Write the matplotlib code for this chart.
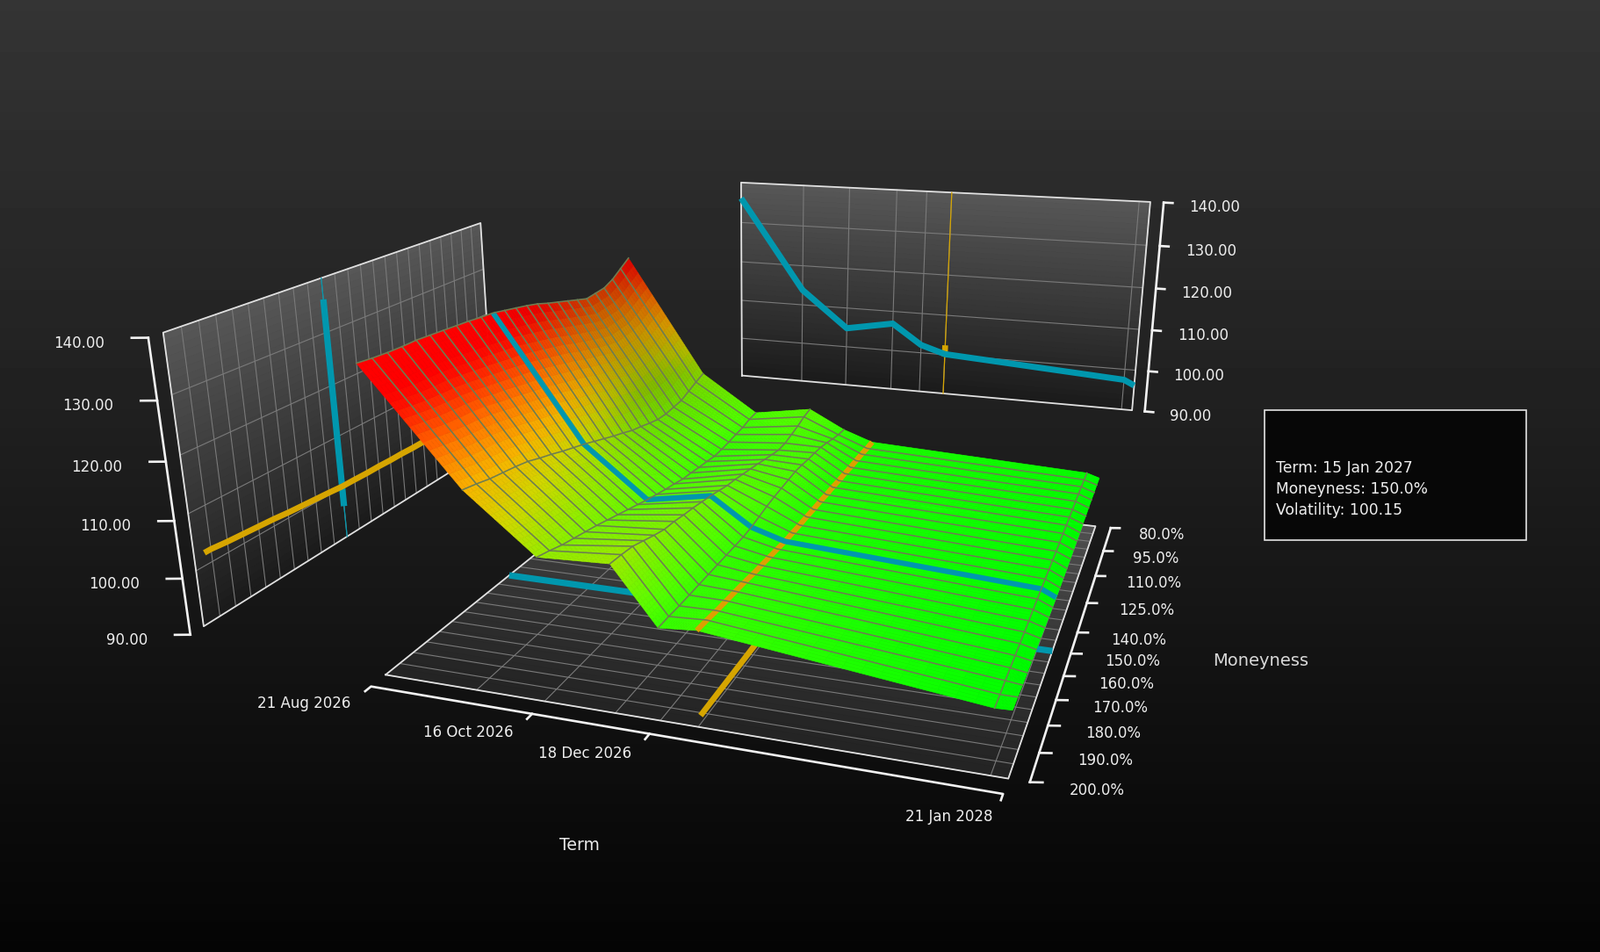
import numpy as np
import matplotlib
matplotlib.use('Agg')
import matplotlib.pyplot as plt
from mpl_toolkits.mplot3d import proj3d
from matplotlib.colors import LinearSegmentedColormap
from matplotlib.patches import Rectangle

#------------------------------------------------------------------------#
# Data
#------------------------------------------------------------------------#
term_pos = [0.0, 0.164, 0.282, 0.401, 0.475, 0.536, 0.975, 1.0]
term_ticks = [0.0, 0.282, 0.475, 1.0]
term_labels = ['21 Aug 2026', '16 Oct 2026', '18 Dec 2026', '21 Jan 2028']
moneyness = list(range(80, 205, 5))
money_ticks = [80, 95, 110, 125, 140, 150, 160, 170, 180, 190, 200]
vol_ticks = [90, 100, 110, 120, 130, 140]
tooltip = ['Term: 15 Jan 2027', 'Moneyness: 150.0%', 'Volatility: 100.15']

# volatility along moneyness, one list per term
vol_t0 = [134.5,133.1,131.7,130.8,130.6,130.4,131.1,131.8,132.5,133.2,134.0,134.6,135.1,135.6,136.1,136.3,136.6,136.8,137.0,137.2,137.4,137.4,137.5,137.7,138.0]
vol_t1 = [110.9,110.2,109.4,108.6,108.4,108.2,108.3,108.8,109.4,109.9,110.7,111.4,112.2,113.0,113.8,114.5,115.2,116.0,116.7,117.5,118.0,118.4,118.8,119.4,119.9]
vol_t2 = [103.4,103.2,102.7,102.5,102.2,102.0,101.9,102.2,102.4,102.7,102.9,103.4,103.8,104.3,104.8,105.4,106.0,106.6,107.2,107.8,108.3,108.8,109.3,110.0,110.6]
vol_t3 = [105.3,104.9,104.2,103.7,103.2,103.1,103.5,103.9,104.4,104.8,105.2,105.6,105.9,106.4,106.9,107.3,107.7,108.0,108.4,108.6,109.2,109.9,110.6,110.9,111.1]
vol_t4 = [101.6,101.8,102.2,102.7,103.1,103.3,103.4,103.6,103.7,103.5,103.3,103.1,102.8,102.4,102.0,101.8,101.8,101.8,101.8,101.8,101.8,101.8,101.8,101.9,101.9]
vol_t5 = [99.5,99.5,99.6,99.6,99.6,99.7,99.7,99.8,99.8,99.9,99.9,100.0,100.0,100.1,100.15,100.4,100.6,100.8,101.0,101.3,101.5,101.7,101.9,102.2,102.4]
vol_t6 = [97.6,97.6,97.6,97.6,97.6,97.5,97.5,97.5,97.5,97.4,97.4,97.4,97.4,97.4,97.4,97.4,97.4,97.3,97.3,97.3,97.3,97.3,97.3,97.2,97.2]
vol_t7 = [96.8,96.8,96.7,96.7,96.6,96.5,96.5,96.4,96.4,96.3,96.3,96.2,96.2,96.2,96.2,96.3,96.4,96.5,96.6,96.7,96.8,96.9,97.0,97.2,97.3]

vol = np.array([vol_t0, vol_t1, vol_t2, vol_t3, vol_t4, vol_t5, vol_t6, vol_t7]).T
i_cur = moneyness.index(150)   # cursor moneyness
k_cur = 5                      # cursor term
cur_row = vol[i_cur]
cur_col = vol[:, k_cur]

#------------------------------------------------------------------------#
# Scene geometry (camera and the detached panels)
#------------------------------------------------------------------------#
W, H = 1822, 1084
wall_x = -0.3445    # left panel, in term units
wall_y = -4.58      # back panel, in moneyness units
floor_z = 86.6
S, CX, CY = 5719.5, 844.8, 558.6

fig = plt.figure(figsize=(W / 100, H / 100), dpi=100)
bg = fig.add_axes([0, 0, 1, 1], zorder=-1)
bg.imshow(np.linspace(0.205, 0.018, 256)[:, None], cmap='gray', vmin=0, vmax=1, aspect='auto')
bg.axis('off')

ax = fig.add_axes([(CX - .095 * S) / W, 1 - (CY + .095 * S) / H, .185 * S / W, .185 * S / H],
                  projection='3d', computed_zorder=False)
ax.patch.set_visible(False)
ax.set_axis_off()

#------------------------------------------------------------------------#
# Colours
#------------------------------------------------------------------------#
surf_cmap = LinearSegmentedColormap.from_list('vol', [
    (0.0, '#00ff00'), (3 / 37, '#20ff00'), (7 / 37, '#50ff00'), (13 / 37, '#90ee00'),
    (18 / 37, '#d0d800'), (23 / 37, '#f8b400'), (28 / 37, '#ff7c00'), (35 / 37, '#ff1000'), (1.0, '#ff0000')])
wall_cmap = LinearSegmentedColormap.from_list('wall', ['#1b1b1b', '#585858'])
floor_cmap = LinearSegmentedColormap.from_list('floor', ['#232323', '#505050'])
GRID = '#7a7a7a'
EDGE = '#e0e0e0'
AXIS = '#f2f2f2'
TEAL = '#0097ae'
GOLD = '#d6a500'
SURF_GRID = '#6d7d52'

#------------------------------------------------------------------------#
# Panels
#------------------------------------------------------------------------#
zz = np.linspace(90, 140, 40)
YY, ZZ = np.meshgrid([80, 200], zz)
ax.plot_surface(np.full_like(YY, wall_x, dtype=float), YY, ZZ, facecolors=wall_cmap((ZZ - 90) / 50),
                shade=False, rstride=1, cstride=1, zorder=1, linewidth=0.5)
XX, ZZ = np.meshgrid([0, 1], zz)
ax.plot_surface(XX, np.full_like(XX, wall_y, dtype=float), ZZ, facecolors=wall_cmap((ZZ - 90) / 50),
                shade=False, rstride=1, cstride=1, zorder=1, linewidth=0.5)
XF, YF = np.meshgrid([0, 1], np.linspace(80, 200, 40))
ax.plot_surface(XF, YF, np.full_like(XF, floor_z, dtype=float), facecolors=floor_cmap((200 - YF) / 120),
                shade=False, rstride=1, cstride=1, zorder=1, linewidth=0.5)

for m in moneyness:
    ax.plot([wall_x, wall_x], [m, m], [90, 140], color=GRID, lw=0.8, zorder=2)
    ax.plot([0, 1], [m, m], [floor_z, floor_z], color=GRID, lw=0.8, zorder=2)
for t in term_pos:
    ax.plot([t, t], [wall_y, wall_y], [90, 140], color=GRID, lw=0.8, zorder=2)
    ax.plot([t, t], [80, 200], [floor_z, floor_z], color=GRID, lw=0.8, zorder=2)
for z in vol_ticks[1:-1]:
    ax.plot([wall_x, wall_x], [80, 200], [z, z], color=GRID, lw=0.8, zorder=2)
    ax.plot([0, 1], [wall_y, wall_y], [z, z], color=GRID, lw=0.8, zorder=2)
ax.plot([wall_x] * 5, [80, 200, 200, 80, 80], [90, 90, 140, 140, 90], color=EDGE, lw=1.3, zorder=3)
ax.plot([0, 1, 1, 0, 0], [wall_y] * 5, [90, 90, 140, 140, 90], color=EDGE, lw=1.3, zorder=3)
ax.plot([0, 1, 1, 0, 0], [200, 200, 80, 80, 200], [floor_z] * 5, color=EDGE, lw=1.3, zorder=3)

#------------------------------------------------------------------------#
# Projections of the cursor lines on the panels
#------------------------------------------------------------------------#
t_cur = term_pos[k_cur]
n_t, n_m = len(term_pos), len(moneyness)
ax.plot([wall_x, wall_x], [150, 150], [90, 140], color=TEAL, lw=0.9, zorder=4)
ax.plot([t_cur, t_cur], [wall_y, wall_y], [90, 140], color=GOLD, lw=0.9, zorder=4)
ax.plot([wall_x, wall_x], [150, 150], [cur_row.min(), cur_row.max()], color=TEAL, lw=5.2, solid_capstyle='butt', zorder=4)
# the gold projections stop just short of 200%
ax.plot([wall_x] * n_m, moneyness[:-1] + [197], list(cur_col[:-1]) + [cur_col[-2]], color=GOLD, lw=4.8, solid_capstyle='butt', zorder=5)
ax.plot([t_cur, t_cur], [wall_y, wall_y], [cur_col.min(), cur_col.max()], color=GOLD, lw=4.8, solid_capstyle='butt', zorder=4)
ax.plot(term_pos, [wall_y] * n_t, cur_row, color=TEAL, lw=5.0, solid_capstyle='butt', zorder=5)
ax.plot(term_pos, [150] * n_t, [floor_z] * n_t, color=TEAL, lw=5.2, solid_capstyle='butt', zorder=4)
ax.plot([t_cur - 0.009] * 2, [moneyness[0], 196], [floor_z, floor_z], color=GOLD, lw=4.8, solid_capstyle='butt', zorder=4)

#------------------------------------------------------------------------#
# Surface: a finer mesh only carries the colour gradient
#------------------------------------------------------------------------#
fine_t = np.concatenate([np.linspace(term_pos[i], term_pos[i + 1], 16, endpoint=False) for i in range(n_t - 1)] + [[1.0]])
fine_m = np.linspace(80, 200, 97)
by_term = np.array([np.interp(fine_m, moneyness, vol[:, k]) for k in range(n_t)])
fine_z = np.array([np.interp(fine_t, term_pos, by_term[:, j]) for j in range(len(fine_m))])
Xg, Yg = np.meshgrid(fine_t, fine_m)
# the far slope is lit less: colours run more orange and a little darker there
far = np.exp(-((Yg - 100) / 35) ** 2) * np.clip((fine_z - 104) / 10, 0, 1)
rgba = surf_cmap(np.clip((fine_z - 2.5 * far - 97) / 37, 0, 1))
rgba[..., :3] *= (1 - 0.2 * far)[..., None]
ax.plot_surface(Xg, Yg, fine_z, facecolors=rgba, shade=False, rstride=1, cstride=1, linewidth=0.4, zorder=6)

ax.plot([t_cur] * n_m, moneyness, cur_col, color='#dca000', lw=4.4, solid_capstyle='butt', zorder=7)
ax.plot(term_pos, [150] * n_t, cur_row, color=TEAL, lw=4.4, solid_capstyle='butt', zorder=8)
for i, m in enumerate(moneyness):
    if i not in (0, i_cur, n_m - 1):
        ax.plot(term_pos, [m] * n_t, vol[i], color=SURF_GRID, lw=1.15, zorder=9)
for k, t in enumerate(term_pos):
    if k not in (k_cur, n_t - 1):
        ax.plot([t] * n_m, moneyness, vol[:, k], color=SURF_GRID, lw=1.15, zorder=9)

#------------------------------------------------------------------------#
# Axes lines and ticks
#------------------------------------------------------------------------#
ax.plot([0, 0, 1, 1], [207, 205, 205, 207], [floor_z] * 4, color=AXIS, lw=1.9, zorder=3)
for t in term_ticks[1:-1]:
    ax.plot([t, t], [205, 207], [floor_z, floor_z], color=AXIS, lw=1.9, zorder=3)
ax.plot([1.03, 1.03], [80, 200], [floor_z, floor_z], color=AXIS, lw=1.9, zorder=3)
for m in money_ticks:
    ax.plot([1.03, 1.047], [m, m - 0.6], [floor_z, floor_z], color=AXIS, lw=1.9, zorder=3)
ax.plot([wall_x, wall_x], [204, 204], [90, 140], color=AXIS, lw=1.9, zorder=3)
ax.plot([1.03, 1.03], [wall_y, wall_y], [90, 140], color=AXIS, lw=1.9, zorder=3)
for z in vol_ticks:
    ax.plot([wall_x, wall_x - 0.024], [204, 205], [z, z], color=AXIS, lw=1.9, zorder=3)
    ax.plot([1.03, 1.05], [wall_y, wall_y], [z, z], color=AXIS, lw=1.9, zorder=3)

ax.view_init(19.9216, -70.83492, 0.24884)
ax.set_proj_type('persp', focal_length=0.30056)
ax.set_box_aspect((1, 1.02658, 0.502))
ax.set_xlim(0.01721, 1.01721)
ax.set_ylim(229.886, 109.886)
ax.set_zlim(90, 140)
for art in ax.get_children():
    art.set_clip_on(False)

#------------------------------------------------------------------------#
# Labels
#------------------------------------------------------------------------#
M = ax.get_proj()
FONT = 'DejaVu Sans'

def label(x, y, z, txt, dx, dy, ha):
    xp, yp, _ = proj3d.proj_transform(x, y, z, M)
    ax.annotate(txt, (xp, yp), xytext=(dx * .72, dy * .72), textcoords='offset points', ha=ha, va='center',
                color='#eeeeee', fontsize=12, family=FONT, annotation_clip=False)

for z in vol_ticks:
    label(wall_x - 0.024, 205, z, '%.2f' % z, -31, -6, 'right')
    label(1.05, wall_y, z, '%.2f' % z, 19, -5, 'left')
for m in money_ticks:
    label(1.047, m, floor_z, '%.1f%%' % m, 22 + (m - 80) / 120 * 9, -7, 'left')
for t, lab, dx, dy in zip(term_ticks, term_labels, [-16, -16, -15, -9], [-14, -15, -16, -19]):
    label(t, 207, floor_z, lab, dx, dy, 'right')

fig.text(660 / W, 1 - 962 / H, 'Term', color='#e8e8e8', fontsize=13.6, ha='center', va='center', family=FONT)
fig.text(1436 / W, 1 - 753 / H, 'Moneyness', color='#d8d8d8', fontsize=14, ha='center', va='center', family=FONT)

fig.add_artist(Rectangle((1439.5 / W, 1 - 615 / H), 298.5 / W, 148.3 / H, transform=fig.transFigure,
                         facecolor='#070707', edgecolor='#e4e4e4', lw=1.2))
for txt, yy in zip(tooltip, [538.3, 561.7, 586]):
    fig.text(1452.7 / W, 1 - yy / H, txt, color='#eeeeee', fontsize=12.3, ha='left', va='baseline', family=FONT)

fig.savefig('out.png', facecolor='black')
